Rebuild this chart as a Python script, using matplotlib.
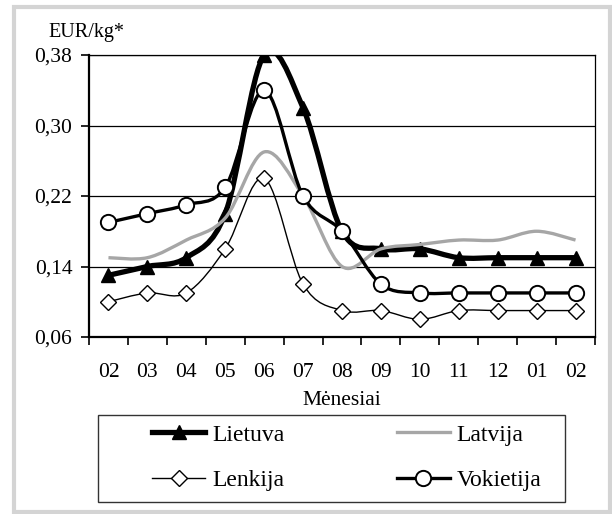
import matplotlib
matplotlib.use("Agg")
import matplotlib.pyplot as plt
import numpy as np
from matplotlib.path import Path
from matplotlib.patches import PathPatch, Rectangle
from matplotlib.lines import Line2D

menesiai = ["02", "03", "04", "05", "06", "07", "08", "09", "10", "11", "12", "01", "02"]
lietuva = [0.13, 0.14, 0.15, 0.20, 0.38, 0.32, 0.18, 0.16, 0.16, 0.15, 0.15, 0.15, 0.15]
latvija = [0.15, 0.15, 0.17, 0.195, 0.27, 0.22, 0.14, 0.16, 0.165, 0.17, 0.17, 0.18, 0.17]
lenkija = [0.10, 0.11, 0.11, 0.16, 0.24, 0.12, 0.09, 0.09, 0.08, 0.09, 0.09, 0.09, 0.09]
vokietija = [0.19, 0.20, 0.21, 0.23, 0.34, 0.22, 0.18, 0.12, 0.11, 0.11, 0.11, 0.11, 0.11]
y_ticks = [0.06, 0.14, 0.22, 0.30, 0.38]

plt.rcParams["font.family"] = ["Liberation Serif", "DejaVu Serif"]


def smooth_path(xs, ys):
    """Bezier kaip Excel'io 'smoothed line' (Catmull-Rom valdymo taskai)."""
    pts = np.column_stack([xs, ys]).astype(float)
    verts = [pts[0]]
    codes = [Path.MOVETO]
    n = len(pts)
    for i in range(n - 1):
        p0 = pts[max(i - 1, 0)]
        p1 = pts[i]
        p2 = pts[i + 1]
        p3 = pts[min(i + 2, n - 1)]
        c1 = p1 + (p2 - p0) / 6.0
        c2 = p2 - (p3 - p1) / 6.0
        verts += [c1, c2, p2]
        codes += [Path.CURVE4] * 3
    return Path(verts, codes)


fig = plt.figure(figsize=(6.12, 5.14), dpi=100)
fig.patches.append(Rectangle((14 / 612, 2 / 514), 596 / 612, 505 / 514,
                             transform=fig.transFigure, fill=False,
                             edgecolor="#d4d4d4", lw=3.0))
# legendos remelis atskirai, kad sutaptu su originalu
fig.patches.append(Rectangle((98 / 612, 1 - 502 / 514), (565 - 98) / 612, 87 / 514,
                             transform=fig.transFigure, fill=False,
                             edgecolor="#333333", lw=1.0))
ax = fig.add_axes([89 / 612, 1 - 337 / 514, (595 - 89) / 612, (337 - 55) / 514])

x = np.arange(len(menesiai))
serijos = [
    ("Lietuva", lietuva, dict(color="black", lw=3.8), dict(marker="^", ms=10, mfc="black", mec="black")),
    ("Latvija", latvija, dict(color="#a6a6a6", lw=2.4), None),
    ("Lenkija", lenkija, dict(color="black", lw=1.0), dict(marker="D", ms=8.5, mfc="white", mec="black", mew=1.0)),
    ("Vokietija", vokietija, dict(color="black", lw=2.4), dict(marker="o", ms=11, mfc="white", mec="black", mew=1.4)),
]
handles = {}
for z, (nm, vals, lst, mst) in enumerate(serijos):
    patch = PathPatch(smooth_path(x, vals), fill=False, edgecolor=lst["color"],
                      lw=lst["lw"], capstyle="butt", joinstyle="round", zorder=3 + z)
    ax.add_patch(patch)
    if mst:
        ax.plot(x, vals, ls="none", zorder=3.5 + z, **mst)
        handles[nm] = Line2D([], [], color=lst["color"], lw=lst["lw"], **mst)
    else:
        handles[nm] = Line2D([], [], color=lst["color"], lw=lst["lw"])

ax.set_xlim(-0.5, len(menesiai) - 0.5)
ax.set_ylim(0.06, 0.38)
ax.set_yticks(y_ticks)
ax.set_yticklabels([f"{v:.2f}".replace(".", ",") for v in y_ticks], fontsize=15.5)
ax.yaxis.grid(True, color="black", lw=0.9)
ax.set_axisbelow(True)
ax.set_xticks(np.arange(-0.5, len(menesiai), 1.0))
ax.set_xticklabels([])
ax.set_xticks(x, minor=True)
ax.set_xticklabels(menesiai, minor=True, fontsize=15.5)
ax.tick_params(axis="x", which="minor", length=0, pad=19)
ax.tick_params(axis="x", which="major", length=6, width=1.2, direction="out")
ax.tick_params(axis="y", length=6, width=1.2, direction="out", pad=6)
for s in ["left", "bottom"]:
    ax.spines[s].set_linewidth(1.6)
for s in ["top", "right"]:
    ax.spines[s].set_linewidth(0.9)

ax.set_xlabel("Mėnesiai", fontsize=15.5, labelpad=6)
fig.text(48 / 612, 1 - 33 / 514, "EUR/kg*", fontsize=14.5, va="center", ha="left")

# legendos eile: pildoma stulpeliais, todel perrikiuota
tvarka = ["Lietuva", "Lenkija", "Latvija", "Vokietija"]
leg = fig.legend([handles[t] for t in tvarka], tvarka, ncol=2, loc="upper left",
                 bbox_to_anchor=(152 / 612, 1 - 424 / 514), fontsize=17,
                 frameon=False, handlelength=2.25, columnspacing=4.75,
                 borderpad=0, borderaxespad=0, labelspacing=1.02, handletextpad=0.3)

fig.savefig("out.png", dpi=100)
